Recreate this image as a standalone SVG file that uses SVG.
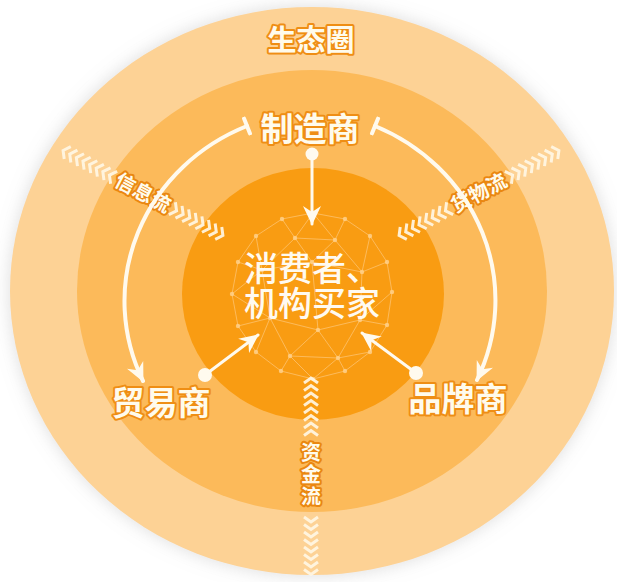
<svg xmlns="http://www.w3.org/2000/svg" width="617" height="582" viewBox="0 0 617 582">
<defs>
<filter id="shadow" x="-10%" y="-10%" width="120%" height="120%">
<feDropShadow dx="0" dy="0" stdDeviation="9" flood-color="#9a9a9a" flood-opacity="0.35"/>
</filter>
<marker id="head" viewBox="-20 -10 22 20" refX="0" refY="0" markerWidth="22" markerHeight="20" markerUnits="userSpaceOnUse" orient="auto">
<path d="M1,0 L-18,-9 L-12,0 L-18,9 Z" fill="#fffaee"/>
</marker>
<marker id="tbar" viewBox="-3 -10 6 20" refX="0" refY="0" markerWidth="6" markerHeight="20" markerUnits="userSpaceOnUse" orient="auto">
<path d="M0,-8 L0,8" stroke="#fffaee" stroke-width="4" stroke-linecap="round"/>
</marker>
</defs>
<style>
.lbl{font-family:"Noto Sans CJK SC","Noto Sans",sans-serif;font-weight:700;fill:#fffbec;stroke:#ef8e14;stroke-width:4;paint-order:stroke;stroke-linejoin:round;text-anchor:middle}
.ctr{font-family:"Noto Sans CJK SC","Noto Sans",sans-serif;font-weight:500;fill:#fffaf0;text-anchor:middle}
.flow{font-family:"Noto Sans CJK SC","Noto Sans",sans-serif;font-weight:700;fill:#fffbec;stroke:#ea8710;stroke-width:4;paint-order:stroke;stroke-linejoin:round;text-anchor:middle;font-size:20px}
.chev{fill:none;stroke:#fff6e4;stroke-width:3;stroke-linecap:butt;stroke-linejoin:miter;opacity:0.92}
.conn{fill:none;stroke:#fffaee;stroke-linecap:round}
.wire line{stroke:#ffd59a;stroke-width:0.9;opacity:0.6}
.wire circle{fill:#ffd08a;opacity:0.85}
</style>
<rect width="617" height="582" fill="#ffffff"/>
<g id="rings">
<ellipse cx="312" cy="291" rx="302" ry="284" fill="#fdd295" filter="url(#shadow)"/>
<ellipse cx="312" cy="291" rx="235" ry="221" fill="#fcba5a"/>
<ellipse cx="313" cy="294" rx="131" ry="126" fill="#f99c12"/>
</g>
<g id="wireframe" class="wire">
<polygon points="392,292 387,325 370,352 345,371 313,379 281,371 256,352 238,326 232,294 238,262 256,236 282,219 313,213 345,219 370,236 387,262" fill="none" stroke="#ffd59a" stroke-width="0.9" opacity="0.6"/>
<line x1="313" y1="213" x2="295" y2="238"/><line x1="313" y1="213" x2="335" y2="240"/><line x1="282" y1="219" x2="295" y2="238"/><line x1="345" y1="219" x2="335" y2="240"/>
<line x1="295" y1="238" x2="335" y2="240"/><line x1="295" y1="238" x2="312" y2="262"/><line x1="335" y1="240" x2="312" y2="262"/>
<line x1="256" y1="236" x2="262" y2="270"/><line x1="238" y1="262" x2="262" y2="270"/><line x1="295" y1="238" x2="262" y2="270"/><line x1="262" y1="270" x2="312" y2="262"/>
<line x1="370" y1="236" x2="362" y2="272"/><line x1="387" y1="262" x2="362" y2="272"/><line x1="335" y1="240" x2="362" y2="272"/><line x1="312" y1="262" x2="362" y2="272"/>
<line x1="232" y1="294" x2="262" y2="270"/><line x1="232" y1="294" x2="270" y2="318"/><line x1="238" y1="326" x2="270" y2="318"/><line x1="256" y1="352" x2="270" y2="318"/><line x1="262" y1="270" x2="270" y2="318"/>
<line x1="270" y1="318" x2="318" y2="330"/><line x1="312" y1="262" x2="318" y2="330"/><line x1="362" y1="272" x2="360" y2="320"/><line x1="392" y1="292" x2="360" y2="320"/><line x1="387" y1="325" x2="360" y2="320"/><line x1="318" y1="330" x2="360" y2="320"/>
<line x1="270" y1="318" x2="290" y2="356"/><line x1="281" y1="371" x2="290" y2="356"/><line x1="313" y1="379" x2="290" y2="356"/><line x1="290" y1="356" x2="318" y2="330"/>
<line x1="318" y1="330" x2="338" y2="358"/><line x1="345" y1="371" x2="338" y2="358"/><line x1="370" y1="352" x2="338" y2="358"/><line x1="360" y1="320" x2="338" y2="358"/><line x1="313" y1="379" x2="338" y2="358"/><line x1="290" y1="356" x2="338" y2="358"/>
<circle cx="392" cy="292" r="2.2"/><circle cx="387" cy="325" r="2.2"/><circle cx="370" cy="352" r="2.2"/><circle cx="345" cy="371" r="2.2"/><circle cx="313" cy="379" r="2.2"/><circle cx="281" cy="371" r="2.2"/><circle cx="256" cy="352" r="2.2"/><circle cx="238" cy="326" r="2.2"/><circle cx="232" cy="294" r="2.2"/><circle cx="238" cy="262" r="2.2"/><circle cx="256" cy="236" r="2.2"/><circle cx="282" cy="219" r="2.2"/><circle cx="313" cy="213" r="2.2"/><circle cx="345" cy="219" r="2.2"/><circle cx="370" cy="236" r="2.2"/><circle cx="387" cy="262" r="2.2"/>
<circle cx="295" cy="238" r="2.2"/><circle cx="335" cy="240" r="2.2"/><circle cx="262" cy="270" r="2.2"/><circle cx="312" cy="262" r="2.2"/><circle cx="362" cy="272" r="2.2"/><circle cx="270" cy="318" r="2.2"/><circle cx="318" cy="330" r="2.2"/><circle cx="360" cy="320" r="2.2"/><circle cx="290" cy="356" r="2.2"/><circle cx="338" cy="358" r="2.2"/>
</g>
<g id="label-ecosystem"><text class="lbl" x="311" y="51" font-size="29">生态圈</text></g>
<g id="flow-info" transform="translate(143,193) rotate(28)">
<path class="chev" d="M-33,-7 L-38,0 L-33,7 M-40.5,-7 L-45.5,0 L-40.5,7 M-48,-7 L-53,0 L-48,7 M-55.5,-7 L-60.5,0 L-55.5,7 M-63,-7 L-68,0 L-63,7 M-70.5,-7 L-75.5,0 L-70.5,7 M-78,-7 L-83,0 L-78,7 M-85.5,-7 L-90.5,0 L-85.5,7"/>
<path class="chev" d="M33,-7 L38,0 L33,7 M40.5,-7 L45.5,0 L40.5,7 M48,-7 L53,0 L48,7 M55.5,-7 L60.5,0 L55.5,7 M63,-7 L68,0 L63,7 M70.5,-7 L75.5,0 L70.5,7 M78,-7 L83,0 L78,7 M85.5,-7 L90.5,0 L85.5,7"/>
<text class="flow" x="0" y="7">信息流</text>
</g>
<g id="flow-goods" transform="translate(479,193) rotate(-28)">
<path class="chev" d="M-33,-7 L-38,0 L-33,7 M-40.5,-7 L-45.5,0 L-40.5,7 M-48,-7 L-53,0 L-48,7 M-55.5,-7 L-60.5,0 L-55.5,7 M-63,-7 L-68,0 L-63,7 M-70.5,-7 L-75.5,0 L-70.5,7 M-78,-7 L-83,0 L-78,7 M-85.5,-7 L-90.5,0 L-85.5,7"/>
<path class="chev" d="M33,-7 L38,0 L33,7 M40.5,-7 L45.5,0 L40.5,7 M48,-7 L53,0 L48,7 M55.5,-7 L60.5,0 L55.5,7 M63,-7 L68,0 L63,7 M70.5,-7 L75.5,0 L70.5,7 M78,-7 L83,0 L78,7 M85.5,-7 L90.5,0 L85.5,7"/>
<text class="flow" x="0" y="7">货物流</text>
</g>
<g id="flow-money" transform="translate(311,475)">
<path class="chev" d="M-7,-92 L0,-97 L7,-92 M-7,-84.5 L0,-89.5 L7,-84.5 M-7,-77 L0,-82 L7,-77 M-7,-69.5 L0,-74.5 L7,-69.5 M-7,-62 L0,-67 L7,-62 M-7,-54.5 L0,-59.5 L7,-54.5 M-7,-47 L0,-52 L7,-47 M-7,-39.5 L0,-44.5 L7,-39.5"/>
<path class="chev" d="M-7,42 L0,47 L7,42 M-7,49.5 L0,54.5 L7,49.5 M-7,57 L0,62 L7,57 M-7,64.5 L0,69.5 L7,64.5 M-7,72 L0,77 L7,72 M-7,79.5 L0,84.5 L7,79.5 M-7,87 L0,92 L7,87 M-7,94.5 L0,99.5 L7,94.5"/>
<text class="flow" x="0" y="-15"><tspan x="0" y="-15">资</tspan><tspan x="0" y="7">金</tspan><tspan x="0" y="29">流</tspan></text>
</g>
<g id="connectors">
<path class="conn" stroke-width="4" d="M 247 126 A 200 190 0 0 0 143 381" marker-start="url(#tbar)" marker-end="url(#head)"/>
<path class="conn" stroke-width="4" d="M 375 126 A 200 190 0 0 1 477 380" marker-start="url(#tbar)" marker-end="url(#head)"/>
<path class="conn" stroke-width="3" d="M 312 153 L 312 224" marker-end="url(#head)"/>
<path class="conn" stroke-width="3" d="M 205 375 L 258 335" marker-end="url(#head)"/>
<path class="conn" stroke-width="3" d="M 416 373 L 362 333" marker-end="url(#head)"/>
<circle cx="312" cy="154" r="6.5" fill="#fffaee"/>
<circle cx="205" cy="375" r="7" fill="#fffaee"/>
<circle cx="416" cy="373" r="7" fill="#fffaee"/>
</g>
<g id="node-manufacturer"><text class="lbl" x="310" y="141" font-size="33">制造商</text></g>
<g id="node-trader"><text class="lbl" x="161" y="415" font-size="33">贸易商</text></g>
<g id="node-brand"><text class="lbl" x="458" y="411" font-size="33">品牌商</text></g>
<g id="node-consumer">
<text class="ctr" font-size="34"><tspan x="312" y="281">消费者、</tspan><tspan x="312" y="316">机构买家</tspan></text>
</g>
</svg>
